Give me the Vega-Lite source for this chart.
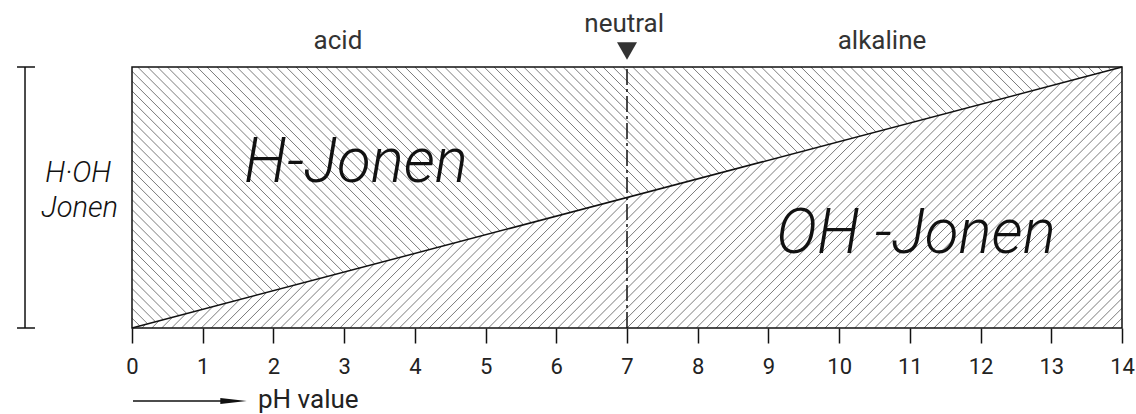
{
  "$schema": "https://vega.github.io/schema/vega-lite/v6.json",
  "width": 990,
  "height": 261,
  "autosize": {"type": "none"},
  "padding": {"left": 132, "top": 67, "right": 14, "bottom": 86},
  "background": "white",
  "config": {
    "view": {"stroke": null},
    "axisX": {
      "domain": false,
      "grid": false,
      "tickColor": "#111",
      "tickWidth": 1.5,
      "tickSize": 15,
      "labelFont": "Roboto",
      "labelFontSize": 22,
      "labelColor": "#222",
      "labelPadding": 13,
      "labelFlush": false
    }
  },
  "datasets": {
    "back": [
      {"a":-3.56,"b":0.14},{"a":-3.42,"b":0.28},{"a":-3.28,"b":0.42},{"a":-3.14,"b":0.56},{"a":-3.0,"b":0.7},
      {"a":-2.86,"b":0.84},{"a":-2.72,"b":0.98},{"a":-2.58,"b":1.12},{"a":-2.44,"b":1.26},{"a":-2.3,"b":1.4},
      {"a":-2.16,"b":1.54},{"a":-2.02,"b":1.68},{"a":-1.88,"b":1.82},{"a":-1.74,"b":1.96},{"a":-1.6,"b":2.1},
      {"a":-1.46,"b":2.24},{"a":-1.32,"b":2.38},{"a":-1.18,"b":2.52},{"a":-1.04,"b":2.66},{"a":-0.9,"b":2.8},
      {"a":-0.76,"b":2.94},{"a":-0.62,"b":3.08},{"a":-0.48,"b":3.22},{"a":-0.34,"b":3.36},{"a":-0.2,"b":3.5},
      {"a":-0.06,"b":3.64},{"a":0.08,"b":3.78},{"a":0.22,"b":3.92},{"a":0.36,"b":4.06},{"a":0.5,"b":4.2},
      {"a":0.64,"b":4.34},{"a":0.78,"b":4.48},{"a":0.92,"b":4.62},{"a":1.06,"b":4.76},{"a":1.2,"b":4.9},
      {"a":1.34,"b":5.04},{"a":1.48,"b":5.18},{"a":1.62,"b":5.32},{"a":1.76,"b":5.46},{"a":1.9,"b":5.6},
      {"a":2.04,"b":5.74},{"a":2.18,"b":5.88},{"a":2.32,"b":6.02},{"a":2.46,"b":6.16},{"a":2.6,"b":6.3},
      {"a":2.74,"b":6.44},{"a":2.88,"b":6.58},{"a":3.02,"b":6.72},{"a":3.16,"b":6.86},{"a":3.3,"b":7.0},
      {"a":3.44,"b":7.14},{"a":3.58,"b":7.28},{"a":3.72,"b":7.42},{"a":3.86,"b":7.56},{"a":4.0,"b":7.7},
      {"a":4.14,"b":7.84},{"a":4.28,"b":7.98},{"a":4.42,"b":8.12},{"a":4.56,"b":8.26},{"a":4.7,"b":8.4},
      {"a":4.84,"b":8.54},{"a":4.98,"b":8.68},{"a":5.12,"b":8.82},{"a":5.26,"b":8.96},{"a":5.4,"b":9.1},
      {"a":5.54,"b":9.24},{"a":5.68,"b":9.38},{"a":5.82,"b":9.52},{"a":5.96,"b":9.66},{"a":6.1,"b":9.8},
      {"a":6.24,"b":9.94},{"a":6.38,"b":10.08},{"a":6.52,"b":10.22},{"a":6.66,"b":10.36},{"a":6.8,"b":10.5},
      {"a":6.94,"b":10.64},{"a":7.08,"b":10.78},{"a":7.22,"b":10.92},{"a":7.36,"b":11.06},{"a":7.5,"b":11.2},
      {"a":7.64,"b":11.34},{"a":7.78,"b":11.48},{"a":7.92,"b":11.62},{"a":8.06,"b":11.76},{"a":8.2,"b":11.9},
      {"a":8.34,"b":12.04},{"a":8.48,"b":12.18},{"a":8.62,"b":12.32},{"a":8.76,"b":12.46},{"a":8.9,"b":12.6},
      {"a":9.04,"b":12.74},{"a":9.18,"b":12.88},{"a":9.32,"b":13.02},{"a":9.46,"b":13.16},{"a":9.6,"b":13.3},
      {"a":9.74,"b":13.44},{"a":9.88,"b":13.58},{"a":10.02,"b":13.72},{"a":10.16,"b":13.86},{"a":10.3,"b":14.0},
      {"a":10.44,"b":14.14},{"a":10.58,"b":14.28},{"a":10.72,"b":14.42},{"a":10.86,"b":14.56},{"a":11.0,"b":14.7},
      {"a":11.14,"b":14.84},{"a":11.28,"b":14.98},{"a":11.42,"b":15.12},{"a":11.56,"b":15.26},{"a":11.7,"b":15.4},
      {"a":11.84,"b":15.54},{"a":11.98,"b":15.68},{"a":12.12,"b":15.82},{"a":12.26,"b":15.96},{"a":12.4,"b":16.1},
      {"a":12.54,"b":16.24},{"a":12.68,"b":16.38},{"a":12.82,"b":16.52},{"a":12.96,"b":16.66},{"a":13.1,"b":16.8},
      {"a":13.24,"b":16.94},{"a":13.38,"b":17.08},{"a":13.52,"b":17.22},{"a":13.66,"b":17.36},{"a":13.8,"b":17.5},
      {"a":13.94,"b":17.64}
    ],
    "fwd": [
      {"c":0.14,"ex":0.19,"ey":0.05},{"c":0.28,"ex":0.381,"ey":0.101},{"c":0.42,"ex":0.571,"ey":0.151},{"c":0.56,"ex":0.761,"ey":0.201},{"c":0.7,"ex":0.951,"ey":0.251},
      {"c":0.84,"ex":1.142,"ey":0.302},{"c":0.98,"ex":1.332,"ey":0.352},{"c":1.12,"ex":1.522,"ey":0.402},{"c":1.26,"ex":1.713,"ey":0.453},{"c":1.4,"ex":1.903,"ey":0.503},
      {"c":1.54,"ex":2.093,"ey":0.553},{"c":1.68,"ex":2.283,"ey":0.603},{"c":1.82,"ex":2.474,"ey":0.654},{"c":1.96,"ex":2.664,"ey":0.704},{"c":2.1,"ex":2.854,"ey":0.754},
      {"c":2.24,"ex":3.045,"ey":0.805},{"c":2.38,"ex":3.235,"ey":0.855},{"c":2.52,"ex":3.425,"ey":0.905},{"c":2.66,"ex":3.616,"ey":0.956},{"c":2.8,"ex":3.806,"ey":1.006},
      {"c":2.94,"ex":3.996,"ey":1.056},{"c":3.08,"ex":4.186,"ey":1.106},{"c":3.22,"ex":4.377,"ey":1.157},{"c":3.36,"ex":4.567,"ey":1.207},{"c":3.5,"ex":4.757,"ey":1.257},
      {"c":3.64,"ex":4.948,"ey":1.308},{"c":3.78,"ex":5.138,"ey":1.358},{"c":3.92,"ex":5.328,"ey":1.408},{"c":4.06,"ex":5.518,"ey":1.458},{"c":4.2,"ex":5.709,"ey":1.509},
      {"c":4.34,"ex":5.899,"ey":1.559},{"c":4.48,"ex":6.089,"ey":1.609},{"c":4.62,"ex":6.28,"ey":1.66},{"c":4.76,"ex":6.47,"ey":1.71},{"c":4.9,"ex":6.66,"ey":1.76},
      {"c":5.04,"ex":6.85,"ey":1.81},{"c":5.18,"ex":7.041,"ey":1.861},{"c":5.32,"ex":7.231,"ey":1.911},{"c":5.46,"ex":7.421,"ey":1.961},{"c":5.6,"ex":7.612,"ey":2.012},
      {"c":5.74,"ex":7.802,"ey":2.062},{"c":5.88,"ex":7.992,"ey":2.112},{"c":6.02,"ex":8.183,"ey":2.163},{"c":6.16,"ex":8.373,"ey":2.213},{"c":6.3,"ex":8.563,"ey":2.263},
      {"c":6.44,"ex":8.753,"ey":2.313},{"c":6.58,"ex":8.944,"ey":2.364},{"c":6.72,"ex":9.134,"ey":2.414},{"c":6.86,"ex":9.324,"ey":2.464},{"c":7.0,"ex":9.515,"ey":2.515},
      {"c":7.14,"ex":9.705,"ey":2.565},{"c":7.28,"ex":9.895,"ey":2.615},{"c":7.42,"ex":10.085,"ey":2.665},{"c":7.56,"ex":10.276,"ey":2.716},{"c":7.7,"ex":10.466,"ey":2.766},
      {"c":7.84,"ex":10.656,"ey":2.816},{"c":7.98,"ex":10.847,"ey":2.867},{"c":8.12,"ex":11.037,"ey":2.917},{"c":8.26,"ex":11.227,"ey":2.967},{"c":8.4,"ex":11.417,"ey":3.017},
      {"c":8.54,"ex":11.608,"ey":3.068},{"c":8.68,"ex":11.798,"ey":3.118},{"c":8.82,"ex":11.988,"ey":3.168},{"c":8.96,"ex":12.179,"ey":3.219},{"c":9.1,"ex":12.369,"ey":3.269},
      {"c":9.24,"ex":12.559,"ey":3.319},{"c":9.38,"ex":12.749,"ey":3.369},{"c":9.52,"ex":12.94,"ey":3.42},{"c":9.66,"ex":13.13,"ey":3.47},{"c":9.8,"ex":13.32,"ey":3.52},
      {"c":9.94,"ex":13.511,"ey":3.571},{"c":10.08,"ex":13.701,"ey":3.621},{"c":10.22,"ex":13.891,"ey":3.671},{"c":10.36,"ex":14.06,"ey":3.7},{"c":10.5,"ex":14.2,"ey":3.7},
      {"c":10.64,"ex":14.34,"ey":3.7},{"c":10.78,"ex":14.48,"ey":3.7},{"c":10.92,"ex":14.62,"ey":3.7},{"c":11.06,"ex":14.76,"ey":3.7},{"c":11.2,"ex":14.9,"ey":3.7},
      {"c":11.34,"ex":15.04,"ey":3.7},{"c":11.48,"ex":15.18,"ey":3.7},{"c":11.62,"ex":15.32,"ey":3.7},{"c":11.76,"ex":15.46,"ey":3.7},{"c":11.9,"ex":15.6,"ey":3.7},
      {"c":12.04,"ex":15.74,"ey":3.7},{"c":12.18,"ex":15.88,"ey":3.7},{"c":12.32,"ex":16.02,"ey":3.7},{"c":12.46,"ex":16.16,"ey":3.7},{"c":12.6,"ex":16.3,"ey":3.7},
      {"c":12.74,"ex":16.44,"ey":3.7},{"c":12.88,"ex":16.58,"ey":3.7},{"c":13.02,"ex":16.72,"ey":3.7},{"c":13.16,"ex":16.86,"ey":3.7},{"c":13.3,"ex":17.0,"ey":3.7},
      {"c":13.44,"ex":17.14,"ey":3.7},{"c":13.58,"ex":17.28,"ey":3.7},{"c":13.72,"ex":17.42,"ey":3.7},{"c":13.86,"ex":17.56,"ey":3.7}
    ],
    "diag": [{"x": 0, "y": 0}, {"x": 14, "y": 3.7}]
  },
  "layer": [
    {
      "data": {"name": "back"},
      "mark": {"type": "rule", "clip": true, "color": "#7c7c7c", "strokeWidth": 1},
      "encoding": {
        "x": {"field": "a", "type": "quantitative", "scale": {"domain": [0, 14], "nice": false, "zero": false},
              "axis": {"values": [0,1,2,3,4,5,6,7,8,9,10,11,12,13,14], "format": "d", "title": null}},
        "y": {"datum": 3.7, "type": "quantitative", "scale": {"domain": [0, 3.7], "nice": false, "zero": false}, "axis": null},
        "x2": {"field": "b"},
        "y2": {"datum": 0}
      }
    },
    {
      "data": {"name": "diag"},
      "mark": {"type": "area", "fill": "white", "opacity": 1},
      "encoding": {
        "x": {"field": "x", "type": "quantitative"},
        "y": {"field": "y", "type": "quantitative", "axis": null},
        "y2": {"datum": 0}
      }
    },
    {
      "data": {"name": "fwd"},
      "mark": {"type": "rule", "clip": true, "color": "#7c7c7c", "strokeWidth": 1},
      "encoding": {
        "x": {"field": "ex", "type": "quantitative"},
        "y": {"field": "ey", "type": "quantitative", "axis": null},
        "x2": {"field": "c"},
        "y2": {"datum": 0}
      }
    },
    {
      "data": {"name": "diag"},
      "mark": {"type": "line", "color": "#111", "strokeWidth": 1.5},
      "encoding": {
        "x": {"field": "x", "type": "quantitative"},
        "y": {"field": "y", "type": "quantitative", "axis": null}
      }
    },
    {
      "data": {"values": [{}]},
      "mark": {"type": "rect", "filled": false, "fill": "transparent", "stroke": "#111", "strokeWidth": 1.5},
      "encoding": {
        "x": {"datum": 0, "type": "quantitative"}, "x2": {"datum": 14},
        "y": {"datum": 0, "type": "quantitative", "axis": null}, "y2": {"datum": 3.7}
      }
    },
    {
      "data": {"values": [{}]},
      "mark": {"type": "rule", "color": "#111", "strokeWidth": 1.5, "strokeDash": [16, 4, 3, 4]},
      "encoding": {"x": {"datum": 7, "type": "quantitative"}, "y": {"datum": 0, "type": "quantitative", "axis": null}, "y2": {"datum": 3.7}}
    },
    {
      "data": {"values": [{}]},
      "mark": {"type": "point", "shape": "triangle-down", "filled": true, "size": 400, "color": "#333", "opacity": 1},
      "encoding": {"x": {"datum": 7, "type": "quantitative"}, "y": {"datum": 3.927, "type": "quantitative", "axis": null}}
    },
    {
      "data": {"values": [{}]},
      "mark": {"type": "rule", "color": "#111", "strokeWidth": 1.5},
      "encoding": {"x": {"datum": -1.513, "type": "quantitative"}, "y": {"datum": 0, "type": "quantitative", "axis": null}, "y2": {"datum": 3.7}}
    },
    {
      "data": {"values": [{}]},
      "mark": {"type": "rule", "color": "#111", "strokeWidth": 1.5},
      "encoding": {"x": {"datum": -1.626, "type": "quantitative"}, "x2": {"datum": -1.372}, "y": {"datum": 0, "type": "quantitative", "axis": null}}
    },
    {
      "data": {"values": [{}]},
      "mark": {"type": "rule", "color": "#111", "strokeWidth": 1.5},
      "encoding": {"x": {"datum": -1.626, "type": "quantitative"}, "x2": {"datum": -1.372}, "y": {"datum": 3.7, "type": "quantitative", "axis": null}}
    },
    {
      "data": {"values": [{}]},
      "mark": {"type": "rule", "color": "#111", "strokeWidth": 1.5},
      "encoding": {"x": {"datum": 0.014, "type": "quantitative"}, "x2": {"datum": 1.5}, "y": {"datum": -1.035, "type": "quantitative", "axis": null}}
    },
    {
      "data": {"values": [{}]},
      "mark": {"type": "point", "shape": "M-1,-0.22L1,0L-1,0.22Z", "filled": true, "size": 700, "color": "#111", "opacity": 1},
      "encoding": {"x": {"datum": 1.436, "type": "quantitative"}, "y": {"datum": -1.035, "type": "quantitative", "axis": null}}
    },
    {
      "data": {"values": [{"t": "pH value"}]},
      "mark": {"type": "text", "font": "Roboto", "fontSize": 26, "align": "left", "baseline": "alphabetic", "color": "#222"},
      "encoding": {"x": {"datum": 1.782, "type": "quantitative"}, "y": {"datum": -1.134, "type": "quantitative", "axis": null}, "text": {"field": "t", "type": "nominal"}}
    },
    {
      "data": {"values": [{"t": "acid"}]},
      "mark": {"type": "text", "font": "Roboto", "fontSize": 26, "align": "center", "baseline": "alphabetic", "color": "#333"},
      "encoding": {"x": {"datum": 2.913, "type": "quantitative"}, "y": {"datum": 3.95, "type": "quantitative", "axis": null}, "text": {"field": "t", "type": "nominal"}}
    },
    {
      "data": {"values": [{"t": "neutral"}]},
      "mark": {"type": "text", "font": "Roboto", "fontSize": 26, "align": "center", "baseline": "alphabetic", "color": "#333"},
      "encoding": {"x": {"datum": 6.96, "type": "quantitative"}, "y": {"datum": 4.196, "type": "quantitative", "axis": null}, "text": {"field": "t", "type": "nominal"}}
    },
    {
      "data": {"values": [{"t": "alkaline"}]},
      "mark": {"type": "text", "font": "Roboto", "fontSize": 26, "align": "center", "baseline": "alphabetic", "color": "#333"},
      "encoding": {"x": {"datum": 10.606, "type": "quantitative"}, "y": {"datum": 3.95, "type": "quantitative", "axis": null}, "text": {"field": "t", "type": "nominal"}}
    },
    {
      "data": {"values": [{"t": "H-Jonen"}]},
      "mark": {"type": "text", "font": "Roboto", "fontSize": 62, "fontStyle": "italic", "fontWeight": 300, "align": "center", "baseline": "alphabetic", "color": "#111"},
      "encoding": {"x": {"datum": 3.168, "type": "quantitative"}, "y": {"datum": 2.07, "type": "quantitative", "axis": null}, "text": {"field": "t", "type": "nominal"}}
    },
    {
      "data": {"values": [{"t": "OH -Jonen"}]},
      "mark": {"type": "text", "font": "Roboto", "fontSize": 62, "fontStyle": "italic", "fontWeight": 300, "align": "center", "baseline": "alphabetic", "color": "#111"},
      "encoding": {"x": {"datum": 11.087, "type": "quantitative"}, "y": {"datum": 1.063, "type": "quantitative", "axis": null}, "text": {"field": "t", "type": "nominal"}}
    },
    {
      "data": {"values": [{"t": "H·OH"}]},
      "mark": {"type": "text", "font": "Roboto", "fontSize": 29, "fontStyle": "italic", "fontWeight": 300, "align": "center", "baseline": "alphabetic", "color": "#111"},
      "encoding": {"x": {"datum": -0.76, "type": "quantitative"}, "y": {"datum": 2.07, "type": "quantitative", "axis": null}, "text": {"field": "t", "type": "nominal"}}
    },
    {
      "data": {"values": [{"t": "Jonen"}]},
      "mark": {"type": "text", "font": "Roboto", "fontSize": 29, "fontStyle": "italic", "fontWeight": 300, "align": "center", "baseline": "alphabetic", "color": "#111"},
      "encoding": {"x": {"datum": -0.74, "type": "quantitative"}, "y": {"datum": 1.574, "type": "quantitative", "axis": null}, "text": {"field": "t", "type": "nominal"}}
    }
  ]
}
